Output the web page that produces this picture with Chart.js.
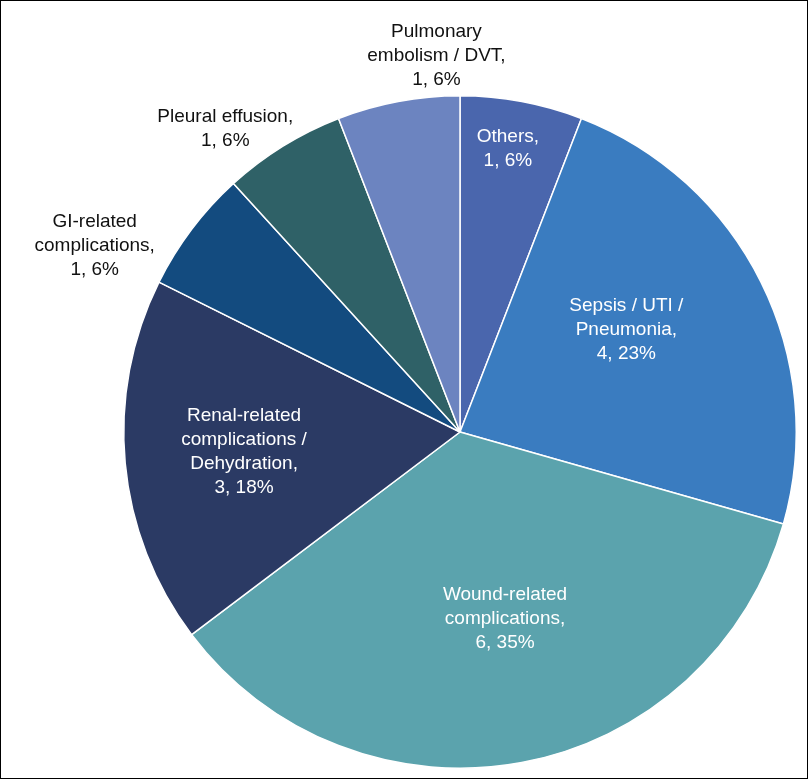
<!DOCTYPE html>
<html><head><meta charset="utf-8">
<script src="https://cdn.jsdelivr.net/npm/chart.js@4"></script>
<style>html,body{margin:0;padding:0;background:#fff}#wrap{width:808px;height:779px}</style>
</head><body><div id="wrap"><canvas id="c"></canvas></div>
<script>
const categories = ["Others","Sepsis / UTI / Pneumonia","Wound-related complications","Renal-related complications / Dehydration","GI-related complications","Pleural effusion","Pulmonary embolism / DVT"];
const counts = [1,4,6,3,1,1,1];
const percents = ["6%","23%","35%","18%","6%","6%","6%"];
const labelLines = [["Others,","1, 6%"],["Sepsis / UTI /","Pneumonia,","4, 23%"],["Wound-related","complications,","6, 35%"],["Renal-related","complications /","Dehydration,","3, 18%"],["GI-related","complications,","1, 6%"],["Pleural effusion,","1, 6%"],["Pulmonary","embolism / DVT,","1, 6%"]];
const colors = ["#4a66ad","#3a7cc0","#5ba3ad","#2b3a64","#134b7f","#2f6167","#6c84c0"];
const labelDist = [0.855,0.58,0.57,0.645,1.22,1.14,1.12];
const labelAngTweak = [-1,-5,-3,0,-10,-6,7];
const labelColor = ["#fff","#fff","#fff","#fff","#111","#111","#111"];
const labelPlugin = {id:'lbl',afterDatasetsDraw(chart){
  const ctx=chart.ctx; const meta=chart.getDatasetMeta(0);
  ctx.save(); ctx.font='19px "Liberation Sans", Arial, sans-serif'; ctx.textAlign='center'; ctx.textBaseline='middle';
  meta.data.forEach((a,i)=>{
    const mid=(a.startAngle+a.endAngle)/2+labelAngTweak[i]*Math.PI/180;
    const d=a.outerRadius*labelDist[i];
    const x=a.x+Math.cos(mid)*d, y=a.y+Math.sin(mid)*d;
    const L=labelLines[i]; const lh=24;
    ctx.fillStyle=labelColor[i];
    L.forEach((t,k)=>ctx.fillText(t,x,y+(k-(L.length-1)/2)*lh));
  });
  ctx.strokeStyle='#000'; ctx.lineWidth=1; ctx.strokeRect(0.5,0.5,chart.width-1,chart.height-1);
  ctx.restore();
}};
new Chart(document.getElementById('c'),{type:'pie',
 data:{labels:categories,datasets:[{data:counts,backgroundColor:colors,borderColor:'#fff',borderWidth:1.5}]},
 options:{responsive:true,maintainAspectRatio:false,animation:false,
  layout:{padding:{left:123,right:11,top:95,bottom:10}},
  plugins:{legend:{display:false},tooltip:{enabled:false}}},
 plugins:[labelPlugin]});
</script></body></html>
